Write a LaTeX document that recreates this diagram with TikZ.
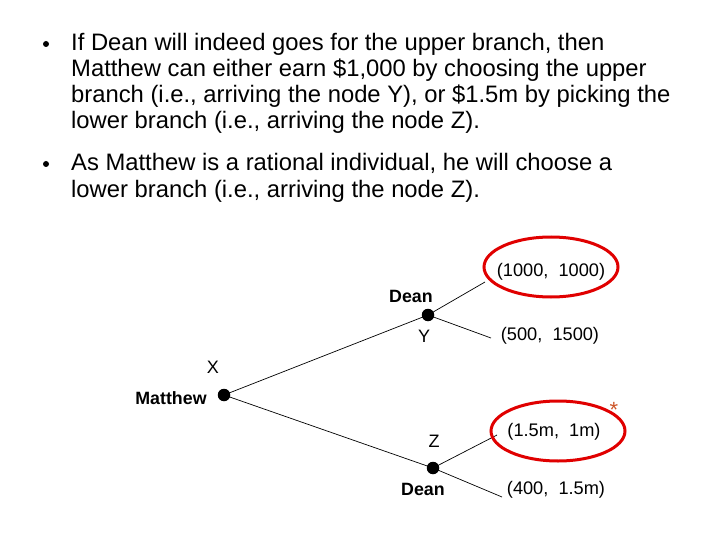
\documentclass[tikz,border=0pt]{standalone}
\usepackage{fontspec}
\setmainfont{Liberation Sans}
\definecolor{starcol}{RGB}{205,85,40}
\begin{document}
\begin{tikzpicture}[x=1pt,y=-1pt,
  bul/.style={anchor=base west,inner sep=0pt,font=\fontsize{23.8}{26}\selectfont},
  bdot/.style={circle,fill=black,inner sep=0pt,minimum size=6pt},
  dot/.style={circle,fill=black,inner sep=0pt,minimum size=12.5pt},
  lab/.style={inner sep=0pt,font=\fontsize{18}{20}\selectfont},
  blab/.style={inner sep=0pt,font=\fontsize{17.8}{20}\selectfont\bfseries},
  pay/.style={inner sep=0pt,font=\fontsize{18.2}{20}\selectfont},
  ring/.style={draw=red!88!black,line width=3pt},
  edge/.style={draw=black,line width=0.7pt}]
\useasboundingbox (0,0) rectangle (720,540);
% bullets
\node[bdot] (b1) at (46,44) {};
\node[bul] (l1) at (71,51) {If Dean will indeed goes for the upper branch, then};
\node[bul] (l2) at (71,77) {Matthew can either earn \$1,000 by choosing the upper};
\node[bul] (l3) at (71,103) {branch (i.e., arriving the node Y), or \$1.5m by picking the};
\node[bul] (l4) at (71,129) {lower branch (i.e., arriving the node Z).};
\node[bdot] (b2) at (46,164) {};
\node[bul] (l5) at (71,171) {As Matthew is a rational individual, he will choose a};
\node[bul] (l6) at (71,197) {lower branch (i.e., arriving the node Z).};
% tree nodes
\node[dot] (m) at (224,395) {};
\node[dot] (y) at (428,315) {};
\node[dot] (z) at (433,468) {};
\coordinate (ya) at (485,282);
\coordinate (yb) at (491,338);
\coordinate (za) at (497,435);
\coordinate (zb) at (502,497);
\draw[edge] (m.center) -- (y.center);
\draw[edge] (m.center) -- (z.center);
\draw[edge] (y.center) -- (ya);
\draw[edge] (y.center) -- (yb);
\draw[edge] (z.center) -- (za);
\draw[edge] (z.center) -- (zb);
% labels
\node[blab] (dn1) at (411,296) {Dean};
\node[lab] (ly) at (424,336) {Y};
\node[lab] (lx) at (213,367) {X};
\node[blab] (mt) at (171,398) {Matthew};
\node[lab] (lz) at (434,441) {Z};
\node[blab] (dn2) at (423,489) {Dean};
\node[pay] (p1) at (551,272) {(1000,\ \ 1000)};
\node[pay] (p2) at (550,336) {(500,\ \ 1500)};
\node[pay] (p3) at (554,432) {(1.5m,\ \ 1m)};
\node[pay] (p4) at (556,490) {(400,\ \ 1.5m)};
\draw[ring] (551,267) ellipse [x radius=67, y radius=30];
\draw[ring] (558,431) ellipse [x radius=67, y radius=30];
\node[anchor=base,inner sep=0pt,font=\fontsize{22}{24}\selectfont,text=starcol] (st) at (614,417) {*};
\end{tikzpicture}
\end{document}
